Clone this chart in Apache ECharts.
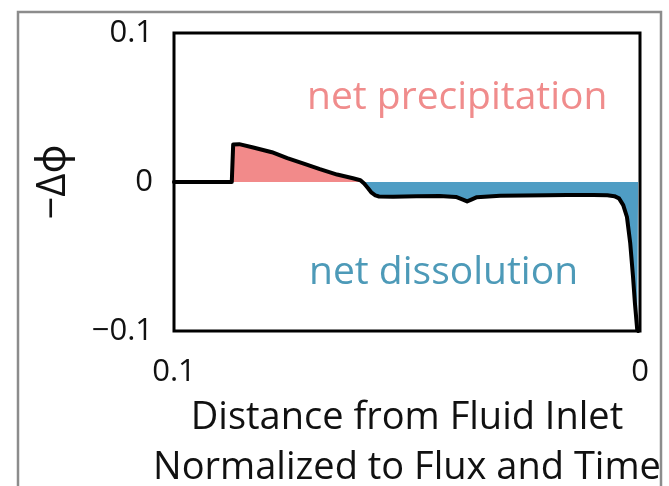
<!DOCTYPE html>
<html>
<head>
<meta charset="utf-8">
<script src="https://cdn.jsdelivr.net/npm/echarts@6/dist/echarts.min.js"></script>
<style>
  html, body { margin: 0; padding: 0; background: #fff; }
  #chart { width: 669px; height: 486px; }
</style>
</head>
<body>
<div id="chart"></div>
<script>
// Normalized distance from the fluid inlet (axis runs from 0.1 down to 0)
const distance = [0.1, 0.0876, 0.0873, 0.0860, 0.0830, 0.0790, 0.0757, 0.0720, 0.0687, 0.0650,
  0.0616, 0.0600, 0.0592, 0.0584, 0.0576, 0.0568, 0.0560, 0.0530, 0.0480, 0.0430, 0.0395,
  0.0380, 0.0371, 0.0362, 0.0350, 0.0300, 0.0250, 0.0200, 0.0157, 0.0100, 0.0070,
  0.0055, 0.0045, 0.0036, 0.0028, 0.0021, 0.0015, 0.0011, 0.0006, 0.0004];
// Change in porosity, -Δφ
const deltaPhi = [0, 0, 0.0252, 0.0254, 0.0232, 0.0200, 0.0160, 0.0122, 0.0086, 0.0050,
  0.0025, 0.0012, -0.0010, -0.0040, -0.0072, -0.0090, -0.0097, -0.0099, -0.0096, -0.0094, -0.0100,
  -0.0118, -0.0130, -0.0118, -0.0102, -0.0092, -0.0090, -0.0089, -0.0088, -0.0087, -0.0089,
  -0.0095, -0.0110, -0.0155, -0.0235, -0.0410, -0.0635, -0.0810, -0.0990, -0.1];
const xTicks = [0, 0.1];
const yTicks = [-0.1, 0, 0.1];

const points = distance.map((d, i) => [d, deltaPhi[i]]);
const FONT = '"Open Sans", "Noto Sans", sans-serif';
const PINK = '#f28a8a';
const BLUE = '#4f9dc4';
const H = 486;

function fmt(v) {
  if (Math.abs(v) < 1e-9) return '0';
  const s = String(+Math.abs(v).toFixed(2));
  return v < 0 ? '\u2212' + s : s;
}

const chart = echarts.init(document.getElementById('chart'), null, { renderer: 'canvas' });

function areaFill(zeroY) {
  // hard colour switch at the zero line: pink above, blue below
  const f = zeroY / H;
  return new echarts.graphic.LinearGradient(0, 0, 0, H, [
    { offset: 0, color: PINK }, { offset: f, color: PINK },
    { offset: f, color: BLUE }, { offset: 1, color: BLUE }
  ], true);
}

chart.setOption({
  animation: false,
  backgroundColor: '#fff',
  grid: {
    left: 174, right: 29, top: 33, bottom: 155, outerBoundsMode: 'none',
    show: true, borderColor: '#000', borderWidth: 3, backgroundColor: 'transparent'
  },
  xAxis: {
    type: 'value', min: xTicks[0], max: xTicks[1], interval: 0.1, inverse: true,
    axisLine: { show: false }, axisTick: { show: false }, splitLine: { show: false },
    axisLabel: { margin: 26, fontSize: 31, color: '#111', fontFamily: FONT, formatter: fmt },
    name: 'Distance from Fluid Inlet\nNormalized to Flux and Time',
    nameLocation: 'middle', nameGap: 57,
    nameTextStyle: { fontSize: 38, color: '#111', fontFamily: FONT, lineHeight: 50 }
  },
  yAxis: {
    type: 'value', min: yTicks[0], max: yTicks[2], interval: 0.1,
    axisLine: { show: false }, axisTick: { show: false }, splitLine: { show: false },
    axisLabel: { margin: 21, fontSize: 31, color: '#111', fontFamily: FONT, formatter: fmt },
    name: '\u2212\u0394\u03d5', nameLocation: 'middle', nameRotate: 90, nameGap: 100,
    nameTextStyle: { fontSize: 40, color: '#111', fontFamily: FONT }
  },
  graphic: [
    { type: 'rect', shape: { x: 18, y: 12, width: 643, height: 500 },
      style: { fill: 'none', stroke: '#8c8c8c', lineWidth: 2.5 }, z: 100 },
    { type: 'text', left: 307, top: 78,
      style: { text: 'net precipitation', fontSize: 39, fill: '#f08c8c', fontFamily: FONT } },
    { type: 'text', left: 309, top: 253,
      style: { text: 'net dissolution', fontSize: 39, fill: '#4d9ab8', fontFamily: FONT } }
  ],
  series: [
    {
      type: 'line', data: points, symbol: 'none', silent: true,
      lineStyle: { width: 0 },
      areaStyle: { opacity: 1, origin: 0, color: PINK }, z: 1
    },
    {
      type: 'line', data: points, symbol: 'none', silent: true,
      lineStyle: { width: 4, color: '#000', join: 'round', cap: 'round' }, z: 3
    }
  ]
});

const zeroY = chart.convertToPixel({ yAxisIndex: 0 }, 0);
chart.setOption({ series: [{ areaStyle: { color: areaFill(zeroY) } }, {}] });
</script>
</body>
</html>
